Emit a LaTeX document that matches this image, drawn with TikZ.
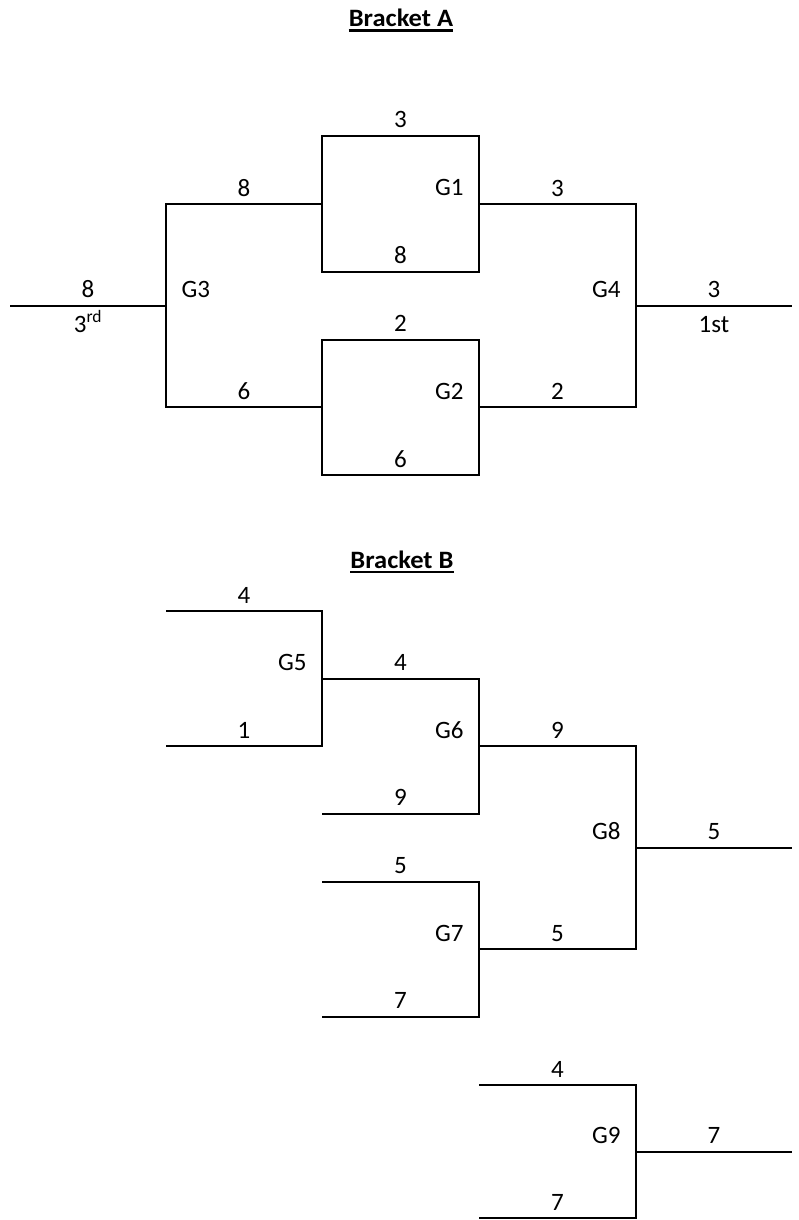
\documentclass[tikz,border=0pt]{standalone}
\usepackage{fontspec}
\setmainfont{Carlito}
\usetikzlibrary{positioning}

\begin{document}
\begin{tikzpicture}[x=1pt, y=-1pt,
            every node/.style = {font=\fontsize{25}{30}\selectfont, inner sep=0pt},
            score/.style = {midway, anchor=base, yshift=8pt},
            place/.style = {midway, anchor=base, yshift=-26.5pt},
            game/.style = {midway, anchor=base east, xshift=-14.5pt, yshift=8pt},
            gameleft/.style = {midway, anchor=base west, xshift=14.5pt, yshift=8pt},
            title/.style = {anchor=base, font=\fontsize{25}{30}\selectfont\bfseries\addfontfeature{FakeStretch=1.06}},
            bracket/.style = {line width=2pt, line join=miter}
        ]
        \useasboundingbox (0,0) rectangle (798,1220);
        % Bracket A
        \node[title] (titleA) at (401,26.7) {Bracket A};
        \draw[line width=2.2pt] ([yshift=-3.8pt]titleA.base west) -- ([yshift=-3.8pt]titleA.base east);
        \draw[bracket] (322,136) -- node[score] (sG1a) {3} (479,136)
            -- node[game] (G1) {G1} (479,271.5) -- node[score] (sG1b) {8} (322,271.5) -- cycle;
        \draw[bracket] (322,339.5) -- node[score] (sG2a) {2} (479,339.5)
            -- node[game] (G2) {G2} (479,475) -- node[score] (sG2b) {6} (322,475) -- cycle;
        \draw[bracket] (322,204) -- node[score] (sG3a) {8} (166,204)
            -- node[gameleft] (G3) {G3} (166,407) -- node[score] (sG3b) {6} (322,407);
        \draw[bracket] (166,305.5) -- node[score] (sG3) {8} node[place] (third) {3\textsuperscript{rd}} (10,305.5);
        \draw[bracket] (479,204) -- node[score] (sG4a) {3} (636,204)
            -- node[game] (G4) {G4} (636,407) -- node[score] (sG4b) {2} (479,407);
        \draw[bracket] (636,305.5) -- node[score] (sG4) {3} node[place] (first) {1st} (792,305.5);
        % Bracket B
        \node[title] (titleB) at (402,568) {Bracket B};
        \draw[line width=2.2pt] ([yshift=-3.8pt]titleB.base west) -- ([yshift=-3.8pt]titleB.base east);
        \draw[bracket] (166,611) -- node[score] (sG5a) {4} (322,611)
            -- node[game] (G5) {G5} (322,746) -- node[score] (sG5b) {1} (166,746);
        \draw[bracket] (322,678.5) -- node[score] (sG6a) {4} (479,678.5)
            -- node[game] (G6) {G6} (479,813.5) -- node[score] (sG6b) {9} (322,813.5);
        \draw[bracket] (322,881.5) -- node[score] (sG7a) {5} (479,881.5)
            -- node[game] (G7) {G7} (479,1016.5) -- node[score] (sG7b) {7} (322,1016.5);
        \draw[bracket] (479,746) -- node[score] (sG8a) {9} (636,746)
            -- node[game] (G8) {G8} (636,949) -- node[score] (sG8b) {5} (479,949);
        \draw[bracket] (636,847.5) -- node[score] (sG8) {5} (792,847.5);
        \draw[bracket] (479,1085) -- node[score] (sG9a) {4} (636,1085)
            -- node[game] (G9) {G9} (636,1218) -- node[score] (sG9b) {7} (479,1218);
        \draw[bracket] (636,1151.5) -- node[score] (sG9) {7} (792,1151.5);
    \end{tikzpicture}
\end{document}
